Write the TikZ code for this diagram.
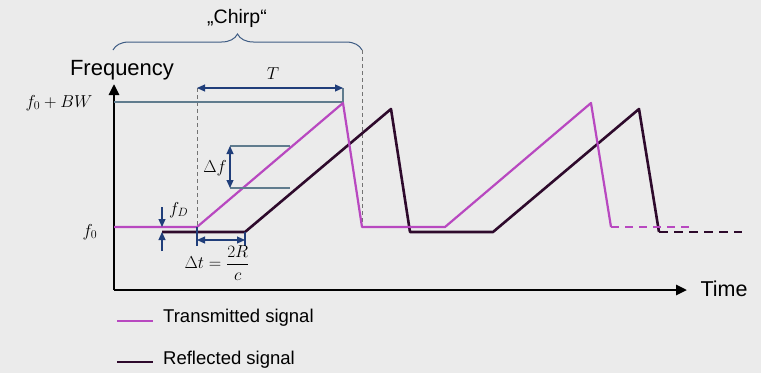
\documentclass[tikz,border=0pt]{standalone}
\usepackage{fontspec}
\setmainfont{Liberation Sans}
\usetikzlibrary{arrows.meta,decorations.pathreplacing}
\definecolor{txcol}{RGB}{184,72,192}
\definecolor{rxcol}{RGB}{46,10,44}
\definecolor{dimcol}{RGB}{32,62,122}
\definecolor{refcol}{RGB}{96,124,142}
\definecolor{bgcol}{RGB}{235,235,235}

\begin{document}
\begin{tikzpicture}[
  x=1pt, y=-1pt, >=Stealth,
  axis/.style={draw=black, line width=2.6pt, -{Triangle[length=11pt,width=10pt]}},
  tx/.style={draw=txcol, line width=2.2pt, line join=round},
  rx/.style={draw=rxcol, line width=2.6pt, line join=round},
  guide/.style={draw=black!55, line width=1pt, dash pattern=on 4pt off 3pt},
  refline/.style={draw=refcol, line width=1.1pt},
  dimarrow/.style={draw=dimcol, line width=1.1pt, -{Triangle[length=8pt,width=7pt]}},
  dimboth/.style={draw=dimcol, line width=1.1pt, {Triangle[length=8pt,width=7pt]}-{Triangle[length=8pt,width=7pt]}},
  bigtext/.style={font=\fontsize{22}{26}\selectfont, inner sep=0pt},
  legtext/.style={font=\fontsize{18.5}{22}\selectfont, inner sep=0pt, anchor=west},
  mathlbl/.style={font=\fontsize{17.5}{21}\selectfont, inner sep=0pt}
]
\fill[bgcol] (0,0) rectangle (761,373);
\useasboundingbox (0,0) rectangle (761,373);

% axes
\coordinate (O) at (114,290);
\coordinate (ytip) at (114,84);
\coordinate (xtip) at (687,290);
\draw[axis] (O) -- (ytip);
\draw[axis] (O) -- (xtip);
\node[bigtext] (freq) at (122,70) {Frequency};
\node[bigtext, font=\fontsize{21.5}{26}\selectfont] (time) at (724,289) {Time};

% chirp brace
\coordinate (bl) at (113,50);
\coordinate (br) at (362,50);
\draw[draw={rgb,255:red,62;green,92;blue,132}, line width=1pt,
      decorate, decoration={brace, amplitude=16pt, aspect=0.5}] (bl) -- (br);
\node[bigtext, font=\fontsize{19.5}{24}\selectfont] (chirp) at (237,18) {„Chirp“};

% transmitted signal
\coordinate (t0) at (114,227);
\coordinate (t1) at (197,227);
\coordinate (t2) at (343,103);
\coordinate (t3) at (362,227);
\coordinate (t4) at (445,227);
\coordinate (t5) at (591,103);
\coordinate (t6) at (611,227);
\coordinate (t7) at (693,227);

% reflected signal
\coordinate (r0) at (162,232);
\coordinate (r1) at (245,232);
\coordinate (r2) at (391,109);
\coordinate (r3) at (410,232);
\coordinate (r4) at (493,232);
\coordinate (r5) at (639,109);
\coordinate (r6) at (659,232);
\coordinate (r7) at (742,232);

% guides
\draw[guide] (197,88) -- (t1);
\draw[guide] (br) -- (t3);
\draw[refline] (114,102) -- (343,102) -- (343,88);

\draw[rx] (r0) -- (r1) -- (r2) -- (r3) -- (r4) -- (r5) -- (r6);
\draw[rx, line width=2.2pt, dash pattern=on 9pt off 6pt] (r6) -- (r7);
\draw[tx] (t0) -- (t1) -- (t2) -- (t3) -- (t4) -- (t5) -- (t6);
\draw[tx, line width=1.8pt, dash pattern=on 8pt off 6pt] (t6) -- (t7);

% T
\draw[dimboth] (197,88) -- (343,88);
\node[mathlbl] (T) at (273,74) {$T$};
\node[mathlbl] (fbw) at (59,103) {$f_0 + BW$};
\node[mathlbl] (f0) at (90,232) {$f_0$};

% delta f
\draw[refline] (230,146) -- (290,146);
\draw[refline] (230,188) -- (290,188);
\draw[dimboth] (230,146) -- (230,188);
\node[mathlbl, anchor=east] (df) at (227,168) {$\Delta f$};

% f_D
\draw[dimarrow] (162,207) -- (162,227);
\draw[dimarrow] (162,251) -- (162,232);
\node[mathlbl, anchor=west] (fD) at (169,210) {$f_D$};

% delta t
\draw[refline, draw=dimcol] (t1) -- (197,246);
\draw[refline, draw=dimcol] (r1) -- (245,246);
\draw[dimboth] (197,240) -- (245,240);
\node[mathlbl] (dt) at (217,263) {$\Delta t = \displaystyle\frac{2R}{c}$};

% legend
\coordinate (lg1a) at (117,321);
\coordinate (lg1b) at (153,321);
\coordinate (lg2a) at (117,362);
\coordinate (lg2b) at (153,362);
\draw[tx] (lg1a) -- (lg1b);
\draw[rx] (lg2a) -- (lg2b);
\node[legtext] (legtx) at (163,318) {Transmitted signal};
\node[legtext] (legrx) at (163,360) {Reflected signal};
\end{tikzpicture}
\end{document}
